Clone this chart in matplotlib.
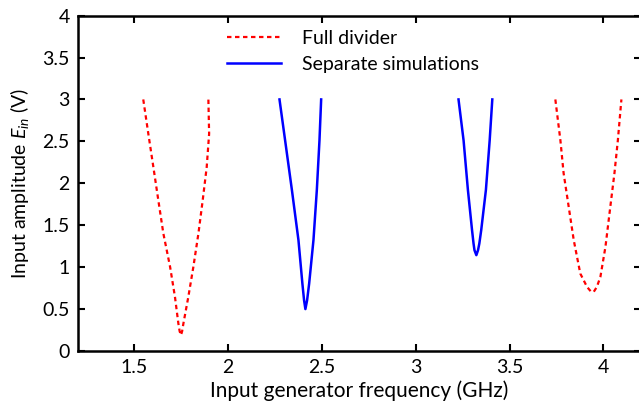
import matplotlib
matplotlib.use("Agg")
import matplotlib.pyplot as plt

plt.rcParams['font.family'] = ['Lato', 'DejaVu Sans']
plt.rcParams['mathtext.fontset'] = 'custom'
plt.rcParams['mathtext.rm'] = 'Lato'
plt.rcParams['mathtext.it'] = 'Lato:italic'

# Full divider (red dotted), two branches
full1_x = [1.548, 1.575, 1.602, 1.628, 1.655, 1.691, 1.717, 1.735, 1.742, 1.749,
           1.755, 1.762, 1.788, 1.815, 1.842, 1.865, 1.886, 1.899, 1.895]
full1_y = [3.0, 2.59, 2.19, 1.80, 1.40, 1.0, 0.64, 0.325, 0.23, 0.185,
           0.23, 0.325, 0.64, 1.0, 1.40, 1.80, 2.19, 2.59, 3.0]
full2_x = [3.744, 3.771, 3.788, 3.815, 3.842, 3.877, 3.913, 3.932, 3.948,
           3.965, 3.984, 4.011, 4.037, 4.059, 4.077, 4.096]
full2_y = [3.0, 2.51, 2.12, 1.72, 1.32, 0.92, 0.76, 0.71, 0.70,
           0.76, 0.88, 1.24, 1.72, 2.12, 2.51, 3.0]

# Separate simulations (blue solid)
sep1_x = [2.274, 2.304, 2.340, 2.375, 2.396, 2.405, 2.412, 2.421, 2.432,
          2.455, 2.473, 2.487, 2.496]
sep1_y = [3.0, 2.51, 1.92, 1.32, 0.80, 0.60, 0.496, 0.60, 0.80,
          1.32, 1.92, 2.51, 3.0]
sep2_x = [3.228, 3.255, 3.278, 3.300, 3.308, 3.313, 3.323, 3.332, 3.339,
          3.349, 3.374, 3.394, 3.408]
sep2_y = [3.0, 2.51, 1.92, 1.44, 1.28, 1.20, 1.14, 1.20, 1.28,
          1.44, 1.92, 2.51, 3.0]

xticks = [1.5, 2, 2.5, 3, 3.5, 4]
xtick_labels = ['1.5', '2', '2.5', '3', '3.5', '4']
yticks = [0, 0.5, 1, 1.5, 2, 2.5, 3, 3.5, 4]
ytick_labels = ['0', '0.5', '1', '1.5', '2', '2.5', '3', '3.5', '4']

fig = plt.figure(figsize=(6.39, 4.03), dpi=100)
ax = fig.add_axes([0.122, 0.130, 0.881, 0.831])

red_style = dict(color='#ff0000', lw=1.6, linestyle=(0, (2.0, 1.6)))
blue_style = dict(color='#0000ff', lw=1.8, linestyle='-')

ax.plot(full1_x, full1_y, label='Full divider', **red_style)
ax.plot(full2_x, full2_y, **red_style)
ax.plot(sep1_x, sep1_y, label='Separate simulations', **blue_style)
ax.plot(sep2_x, sep2_y, **blue_style)

ax.set_xlim(1.2, 4.2)
ax.set_ylim(0, 4)
ax.set_xticks(xticks)
ax.set_xticklabels(xtick_labels)
ax.set_yticks(yticks)
ax.set_yticklabels(ytick_labels)
ax.tick_params(direction='in', top=True, right=True, length=5, width=1.5,
               labelsize=14, pad=6)
for s in ax.spines.values():
    s.set_linewidth(1.8)

ax.set_xlabel('Input generator frequency (GHz)', fontsize=15, labelpad=3)
ax.set_ylabel('Input amplitude $E_{in}$ (V)', fontsize=14, labelpad=8)

leg = ax.legend(loc='upper left', bbox_to_anchor=(0.233, 1.01), frameon=False,
                fontsize=14, handlelength=2.8, handletextpad=1.1,
                labelspacing=0.45)

fig.savefig('out.png', dpi=100)
